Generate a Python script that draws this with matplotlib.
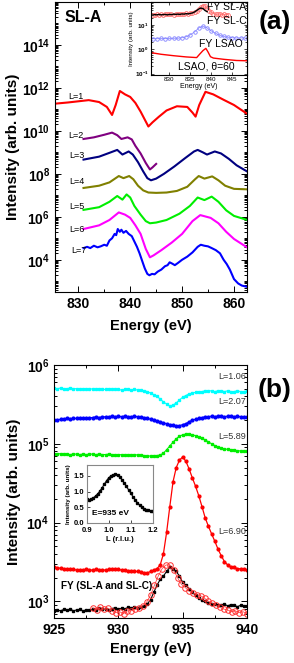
import numpy as np
import matplotlib
matplotlib.use('Agg')
import matplotlib.pyplot as plt
from matplotlib.ticker import FixedLocator, LogLocator, MultipleLocator, FuncFormatter, NullFormatter

plt.rcParams['font.family'] = ['Liberation Sans', 'DejaVu Sans']
plt.rcParams['mathtext.fontset'] = 'custom'
plt.rcParams['mathtext.rm'] = 'Liberation Sans'
plt.rcParams['mathtext.bf'] = 'Liberation Sans:bold'

# ---------------- panel (a): SL-A, Ni L-edge RXS at L=1..7 ----------------
e_l1 = [825, 828, 832, 834, 835.5, 836.5, 837.2, 838, 839, 840, 841, 842, 843.5, 844.3,
        845.5, 847, 849, 851, 852, 852.6, 853.3, 854.5, 856, 858, 860, 862.5]
i_l1 = [1.8e11, 2.1e11, 2.7e11, 2.2e11, 1.3e11, 5.5e10, 1.6e11, 7.2e11, 5.0e11, 3.8e11,
        2.0e11, 7.9e10, 1.6e10, 2.5e10, 4.5e10, 8.9e10, 1.4e11, 1.3e11, 7.1e10, 4.6e10,
        1.6e11, 6.6e11, 5.0e11, 2.8e11, 1.6e11, 6.3e10]

e_l2 = [831, 833, 835, 836.5, 837.5, 838.3, 839.5, 840.3, 841, 842, 843, 843.8, 844.3, 845]
i_l2 = [4.2e9, 5.0e9, 6.6e9, 8.3e9, 6.3e9, 4.2e9, 5.0e9, 4.0e9, 2.0e9, 8.9e8, 3.2e8,
        1.6e8, 2.0e8, 2.9e8]

e_l3 = [831, 834, 836, 837.5, 838.5, 839.7, 840.5, 841.5, 842.5, 843.3, 844, 845, 846.5,
        848.5, 850.5, 852.3, 853, 854, 854.8, 856.3, 857.5, 859, 860.5, 862.5]
i_l3 = [4.6e8, 6.3e8, 9.5e8, 1.3e9, 7.9e8, 1.1e9, 7.9e8, 3.5e8, 1.3e8, 6.3e7, 5.0e7,
        6.0e7, 1.0e8, 2.2e8, 5.2e8, 1.1e9, 1.3e9, 1.0e9, 7.9e8, 1.1e9, 8.9e8, 5.0e8,
        2.5e8, 1.3e8]

e_l4 = [831, 834, 836, 837.8, 838.7, 839.8, 840.6, 841.5, 842.5, 843.5, 845, 847, 849,
        851, 852.5, 853.2, 854.3, 855.8, 857, 858.3, 860, 862.5]
i_l4 = [2.2e7, 2.8e7, 4.0e7, 7.9e7, 6.3e7, 7.9e7, 5.6e7, 2.8e7, 1.7e7, 1.35e7, 1.3e7,
        1.35e7, 1.6e7, 2.5e7, 5.6e7, 7.9e7, 6.0e7, 7.6e7, 5.0e7, 2.8e7, 2.0e7, 1.9e7]

e_l5 = [831, 834, 836, 837.5, 838.5, 839.3, 840, 840.8, 842, 843, 843.8, 845, 847, 849.5,
        851.5, 853, 854.3, 855.7, 857, 858.5, 860, 862.5]
i_l5 = [2.1e6, 2.8e6, 5.0e6, 9.3e6, 6.3e6, 1.1e7, 7.9e6, 3.2e6, 1.26e6, 6.3e5, 5.0e5,
        5.4e5, 7.1e5, 1.4e6, 3.2e6, 7.9e6, 6.0e6, 8.7e6, 5.0e6, 2.0e6, 1.1e6, 7.2e5]

e_l6 = [831, 834, 836, 837.8, 839, 840, 841, 842, 843, 843.8, 844.5, 846, 848, 850, 852,
        853.5, 855.5, 857, 858.5, 860, 862.5]
i_l6 = [2.7e5, 4.0e5, 7.1e5, 1.6e6, 1.26e6, 8.9e5, 4.0e5, 1.6e5, 3.2e4, 1.3e4, 1.6e4,
        2.8e4, 6.3e4, 1.6e5, 6.3e5, 1.2e6, 8.9e5, 5.0e5, 2.0e5, 9.3e4, 3.8e4]

e_l7 = [831, 831.7, 832.3, 833, 833.7, 834.3, 835, 835.5, 836, 836.5, 837, 837.3, 837.6,
        838, 838.3, 838.7, 839.2, 839.7, 840.3, 840.8, 841.3, 841.8, 842.3, 842.8, 843.3,
        843.7, 844.2, 844.7, 845.3, 846, 846.7, 847.2, 847.6, 848.1, 848.6, 849.2, 850,
        851, 852, 853, 853.6, 854.3, 855, 855.7, 856.5, 857.3, 858, 858.6, 859.2, 860,
        860.8, 861.5, 862.5]
i_l7 = [3.5e4, 4.0e4, 3.5e4, 4.5e4, 3.8e4, 4.2e4, 5.0e4, 4.5e4, 7.9e4, 1.0e5, 1.6e5,
        1.4e5, 2.7e5, 2.0e5, 2.5e5, 1.8e5, 2.2e5, 1.6e5, 1.26e5, 7.1e4, 4.0e4, 2.0e4,
        8.9e3, 4.0e3, 2.2e3, 1.9e3, 2.2e3, 2.1e3, 2.8e3, 3.5e3, 5.0e3, 5.6e3, 7.6e3,
        6.6e3, 5.6e3, 7.1e3, 1.0e4, 1.4e4, 2.2e4, 4.0e4, 5.0e4, 4.5e4, 4.2e4, 3.5e4,
        2.8e4, 2.0e4, 1.0e4, 6.3e3, 3.5e3, 1.26e3, 7.9e2, 6.3e2, 5.5e2]

curves_a = [(e_l1, i_l1, '#ff0000'), (e_l2, i_l2, '#800080'), (e_l3, i_l3, '#000080'),
            (e_l4, i_l4, '#808000'), (e_l5, i_l5, '#00ee00'), (e_l6, i_l6, '#ff00ff'),
            (e_l7, i_l7, '#0000ff')]
labels_a = ['L=1', 'L=2', 'L=3', 'L=4', 'L=5', 'L=6', 'L=7']
label_x_a = [828.0, 828.0, 828.3, 828.3, 828.3, 828.3, 828.7]
label_y_a = [4e11, 6.3e9, 6.9e8, 4.4e7, 3.0e6, 2.6e5, 2.8e4]

# inset of (a): fluorescence yield
e_fya = np.arange(826, 844.01, 0.5)
i_fya = [26.9, 26.3, 27.5, 26.9, 28.2, 26.9, 27.5, 28.8, 27.5, 28.2, 26.9, 28.8, 28.2,
         29.5, 28.2, 28.8, 30.2, 29.5, 30.9, 31.6, 33.9, 38.0, 45.7, 55.0, 63.0, 60.0,
         50.0, 39.8, 33.1, 29.5, 28.2, 27.5, 28.2, 26.9, 27.5, 26.3, 26.9]
e_fya_line = np.arange(825.5, 839.01, 0.5)
i_fya_line = [26.3, 25.7, 26.9, 26.3, 27.5, 26.3, 26.9, 27.5, 26.3, 27.5, 26.9, 28.2,
              27.5, 28.2, 27.5, 28.8, 28.2, 29.5, 28.8, 30.2, 31.6, 34.7, 39.8, 45.7,
              50.1, 47.9, 39.8, 35.5]
e_fyc = np.arange(826, 848.01, 1.0)
i_fyc = [2.75, 2.75, 2.82, 2.75, 2.82, 2.88, 2.88, 3.0, 3.3, 4.0, 5.25, 7.6, 9.1, 7.6,
         5.75, 4.6, 3.8, 3.4, 3.16, 3.0, 2.95, 2.95, 2.95]
e_lsao = [825.5, 828, 831, 834, 836.5, 837.2, 838, 838.7, 839.2, 839.8, 840.5, 843, 846, 848.5]
i_lsao = [0.74, 0.63, 0.55, 0.49, 0.46, 0.63, 0.89, 1.1, 0.79, 0.5, 0.44, 0.39, 0.35, 0.34]

# ---------------- panel (b): Cu L3 edge ----------------
e_b = np.arange(925, 940.01, 0.25)
i_106 = np.array([5.1, 5.0, 5.1, 5.0, 5.0, 5.1, 5.0, 5.0, 4.9, 5.0, 5.0, 4.9, 5.0, 4.9, 5.0,
                  4.9, 4.9, 5.0, 4.9, 4.9, 4.9, 4.8, 4.9, 4.9, 4.8, 4.9, 4.8, 4.8, 4.7, 4.6,
                  4.4, 4.2, 4.0, 3.7, 3.4, 3.2, 3.0, 3.1, 3.3, 3.6, 3.9, 4.1, 4.3, 4.4, 4.5,
                  4.6, 4.6, 4.7, 4.7, 4.7, 4.6, 4.7, 4.7, 4.6, 4.7, 4.6, 4.6, 4.7, 4.6, 4.6,
                  4.7]) * 1e5
i_207 = np.array([2.0, 2.0, 2.05, 2.05, 2.1, 2.05, 2.1, 2.1, 2.1, 2.15, 2.1, 2.15, 2.15, 2.2,
                  2.15, 2.2, 2.2, 2.2, 2.25, 2.2, 2.25, 2.2, 2.25, 2.2, 2.2, 2.25, 2.2, 2.2,
                  2.15, 2.1, 2.05, 2.0, 1.95, 1.9, 1.85, 1.8, 1.75, 1.72, 1.7, 1.7, 1.75, 1.8,
                  1.9, 2.0, 2.05, 2.1, 2.15, 2.2, 2.2, 2.25, 2.2, 2.25, 2.25, 2.2, 2.25, 2.25,
                  2.2, 2.25, 2.2, 2.2, 2.2]) * 1e5
i_589 = np.array([7.5, 7.4, 7.5, 7.4, 7.4, 7.3, 7.4, 7.4, 7.3, 7.4, 7.3, 7.4, 7.4, 7.3, 7.4,
                  7.3, 7.3, 7.4, 7.3, 7.3, 7.2, 7.3, 7.3, 7.2, 7.2, 7.3, 7.2, 7.2, 7.1, 7.0,
                  7.0, 7.1, 7.1, 7.2, 7.6, 8.4, 9.4, 10.5, 11.6, 12.5, 13.0, 13.3, 13.2, 13.0,
                  12.7, 12.3, 11.8, 11.2, 10.6, 10.0, 9.5, 9.1, 8.8, 8.6, 8.5, 8.4, 8.3, 8.2,
                  8.1, 8.0, 8.0]) * 1e4
i_690 = np.array([2.7, 2.65, 2.65, 2.6, 2.6, 2.55, 2.55, 2.5, 2.5, 2.5, 2.55, 2.5, 2.5, 2.55,
                  2.5, 2.5, 2.5, 2.55, 2.6, 2.6, 2.55, 2.5, 2.5, 2.45, 2.45, 2.4, 2.4, 2.35,
                  2.3, 2.3, 2.4, 2.5, 2.6, 2.9, 4.0, 7.5, 16, 33, 50, 62, 68, 60, 48, 37, 29,
                  22, 16, 11.5, 9.0, 7.2, 5.8, 4.6, 3.8, 3.2, 2.9, 2.75, 2.7, 2.6, 2.6, 2.55,
                  2.5]) * 1e3
i_fy_b = np.array([7.5, 7.8, 7.6, 7.9, 7.7, 8.0, 7.6, 7.8, 7.9, 7.6, 7.8, 7.7, 8.0, 7.8, 8.2,
                   7.9, 8.0, 7.7, 8.1, 8.3, 7.9, 8.2, 8.0, 8.4, 8.2, 8.5, 8.3, 8.6, 8.8, 9.3,
                   10.5, 13, 16, 19, 21, 24, 27, 26, 24, 21, 17.5, 16, 14.5, 13, 12, 11, 10.3,
                   10, 9.6, 9.3, 9.4, 9.1, 9.0, 9.2, 8.8, 9.1, 8.9, 8.6, 8.9, 8.7,
                   8.7]) * 1e2
e_fy_c = np.linspace(928, 940, 41)
i_fy_c = np.array([8.3, 7.8, 8.4, 7.9, 8.2, 7.5, 7.2, 7.4, 7.0, 7.6, 7.6, 7.9, 8.3, 8.8, 9.8,
                   12, 16, 21, 26, 29, 29, 25, 20, 16.5, 15, 13.5, 12.8, 12.2, 11.8, 11, 10,
                   9.5, 9.0, 8.4, 8.0, 7.8, 7.4, 7.6, 7.2, 7.4, 7.0]) * 1e2

labels_b = ['L=1.06', 'L=2.07', 'L=5.89', 'L=6.90']
label_y_b = [10**5.85, 10**5.535, 10**5.09, 10**3.886]

# inset of (b): L scan at 935 eV
l_scan = np.arange(0.90, 1.2001, 0.01)
i_scan = [0.75, 0.74, 0.76, 0.8, 0.86, 0.93, 1.02, 1.12, 1.24, 1.35, 1.44, 1.5, 1.54, 1.55,
          1.53, 1.47, 1.38, 1.28, 1.17, 1.06, 0.95, 0.84, 0.74, 0.65, 0.57, 0.5, 0.45, 0.42,
          0.4, 0.39, 0.39]


def pow_label(v, pos):
    if v <= 0:
        return ''
    return r'$\mathbf{10^{%d}}$' % int(round(np.log10(v)))


def style_log_axes(ax, majors, size=10):
    ax.yaxis.set_major_locator(FixedLocator(majors))
    ax.yaxis.set_minor_locator(LogLocator(base=10, subs=np.arange(1, 10), numticks=200))
    ax.yaxis.set_major_formatter(FuncFormatter(pow_label))
    ax.yaxis.set_minor_formatter(NullFormatter())
    ax.tick_params(which='both', direction='in', top=True, right=True, width=0.7)
    ax.tick_params(which='major', length=4, labelsize=size)
    ax.tick_params(which='minor', length=2)
    plt.setp(ax.get_xticklabels(), fontweight='bold')


fig = plt.figure(figsize=(2.94, 6.63), dpi=100)

# panel (a)
ax1 = fig.add_axes([0.187, 0.5596, 0.653, 0.4374])
for (e, i, c) in curves_a:
    ax1.plot(e, i, color=c, lw=1.5)
for lab, x, y in zip(labels_a, label_x_a, label_y_a):
    ax1.text(x, y, lab, fontsize=6.5, va='center', ha='left')
ax1.set_yscale('log')
ax1.set_xlim(825.5, 862.5)
ax1.set_ylim(10**2.5, 10**16)
ax1.xaxis.set_major_locator(MultipleLocator(10))
ax1.xaxis.set_minor_locator(MultipleLocator(5))
style_log_axes(ax1, [10.0**k for k in range(4, 15, 2)])
ax1.set_xlabel('Energy (eV)', fontsize=10.5, fontweight='bold', labelpad=6)
ax1.set_ylabel('Intensity (arb. units)', fontsize=11, fontweight='bold', labelpad=1)
ax1.text(0.05, 0.948, 'SL-A', transform=ax1.transAxes, fontsize=11.5,
         fontweight='bold', va='center')

ax1i = fig.add_axes([0.512, 0.887, 0.328, 0.110])
ax1i.plot(e_fya, i_fya, 'o', ms=2.8, mfc='none', mec='#ff7070', mew=0.6)
ax1i.plot(e_fya, i_fya, '-', color='#ff7070', lw=0.5)
ax1i.plot(e_fya_line, i_fya_line, '-', color='black', lw=1.0)
ax1i.plot(e_fyc, i_fyc, 'o-', ms=2.5, mfc='none', mec='#8080ff', color='#8080ff',
          mew=0.6, lw=0.5)
ax1i.plot(e_lsao, i_lsao, '-', color='#ff0000', lw=1.0)
ax1i.set_yscale('log')
ax1i.set_xlim(825.5, 848.5)
ax1i.set_ylim(10**-1.05, 10**1.95)
ax1i.xaxis.set_major_locator(MultipleLocator(5))
ax1i.yaxis.set_major_locator(FixedLocator([0.1, 1, 10]))
ax1i.yaxis.set_minor_locator(LogLocator(base=10, subs=np.arange(2, 10), numticks=50))
ax1i.yaxis.set_major_formatter(FuncFormatter(pow_label))
ax1i.yaxis.set_minor_formatter(NullFormatter())
ax1i.tick_params(which='both', direction='in', top=True, right=True, width=0.5,
                 labelsize=4.5, pad=1.5)
ax1i.tick_params(which='major', length=2.5)
ax1i.tick_params(which='minor', length=1.2)
ax1i.set_xlabel('Energy (eV)', fontsize=5, labelpad=0.5)
ax1i.set_ylabel('Intensity (arb. units)', fontsize=4.5, labelpad=0.5)
ax1i.text(0.585, 0.93, 'FY SL-A', transform=ax1i.transAxes, fontsize=7.5, va='center')
ax1i.text(0.585, 0.74, 'FY SL-C', transform=ax1i.transAxes, fontsize=7.5, va='center')
ax1i.text(0.505, 0.425, 'FY LSAO', transform=ax1i.transAxes, fontsize=7.5, va='center')
ax1i.text(0.28, 0.11, 'LSAO, θ=60', transform=ax1i.transAxes, fontsize=7.5, va='center')

fig.text(0.935, 0.967, '(a)', fontsize=19, fontweight='bold', ha='center', va='center')

# panel (b)
ax2 = fig.add_axes([0.184, 0.0679, 0.656, 0.3816])
ax2.plot(e_b, i_106, 's-', color='#00ffff', ms=2.0, lw=0.8)
ax2.plot(e_b, i_207, 'o-', color='#0000ff', ms=2.0, lw=0.8)
ax2.plot(e_b, i_589, 's-', color='#00ee00', ms=2.0, lw=0.8)
ax2.plot(e_b, i_690, 'o-', color='#ff0000', ms=2.0, lw=0.9)
ax2.plot(e_b, i_fy_b, 's-', color='black', ms=1.8, lw=0.8)
ax2.plot(e_fy_c, i_fy_c, 'o-', color='#ff3030', ms=4.0, mfc='none', mew=0.7, lw=0.5)
for lab, y in zip(labels_b, label_y_b):
    ax2.text(939.9, y, lab, fontsize=6.5, color='#333333', ha='right', va='center')
ax2.text(925.5, 10**3.19, 'FY (SL-A and SL-C)', fontsize=7.2, fontweight='bold',
         va='center')
ax2.set_yscale('log')
ax2.set_xlim(925, 940)
ax2.set_ylim(10**2.79, 1e6)
ax2.xaxis.set_major_locator(MultipleLocator(5))
ax2.xaxis.set_minor_locator(MultipleLocator(2.5))
style_log_axes(ax2, [1e3, 1e4, 1e5, 1e6])
ax2.set_xlabel('Energy (eV)', fontsize=10.5, fontweight='bold', labelpad=4)
ax2.set_ylabel('Intensity (arb. units)', fontsize=11, fontweight='bold', labelpad=4)

ax2i = fig.add_axes([0.295, 0.2112, 0.2245, 0.0875])
ax2i.plot(l_scan, i_scan, 's-', color='black', ms=1.5, lw=0.8)
ax2i.set_xlim(0.9, 1.2)
ax2i.set_ylim(0, 1.85)
ax2i.xaxis.set_major_locator(MultipleLocator(0.1))
ax2i.yaxis.set_major_locator(MultipleLocator(0.5))
ax2i.xaxis.set_major_formatter(FuncFormatter(lambda v, p: '%.1f' % v))
ax2i.yaxis.set_major_formatter(FuncFormatter(lambda v, p: '%.1f' % v))
ax2i.tick_params(direction='in', length=2, width=0.5, labelsize=5.5)
ax2i.tick_params(axis='x', pad=3)
ax2i.tick_params(axis='y', pad=2)
plt.setp(ax2i.get_xticklabels(), fontweight='bold')
plt.setp(ax2i.get_yticklabels(), fontweight='bold')
ax2i.set_xlabel('L (r.l.u.)', fontsize=5.5, fontweight='bold', labelpad=1)
ax2i.set_ylabel('Intensity (arb. units)', fontsize=4.5, fontweight='bold', labelpad=2)
ax2i.text(0.08, 0.17, 'E=935 eV', transform=ax2i.transAxes, fontsize=6, fontweight='bold',
          va='center')
for sp in ax2i.spines.values():
    sp.set_color('#888888')

fig.text(0.935, 0.412, '(b)', fontsize=19, fontweight='bold', ha='center', va='center')

fig.savefig('out.png', dpi=100)
